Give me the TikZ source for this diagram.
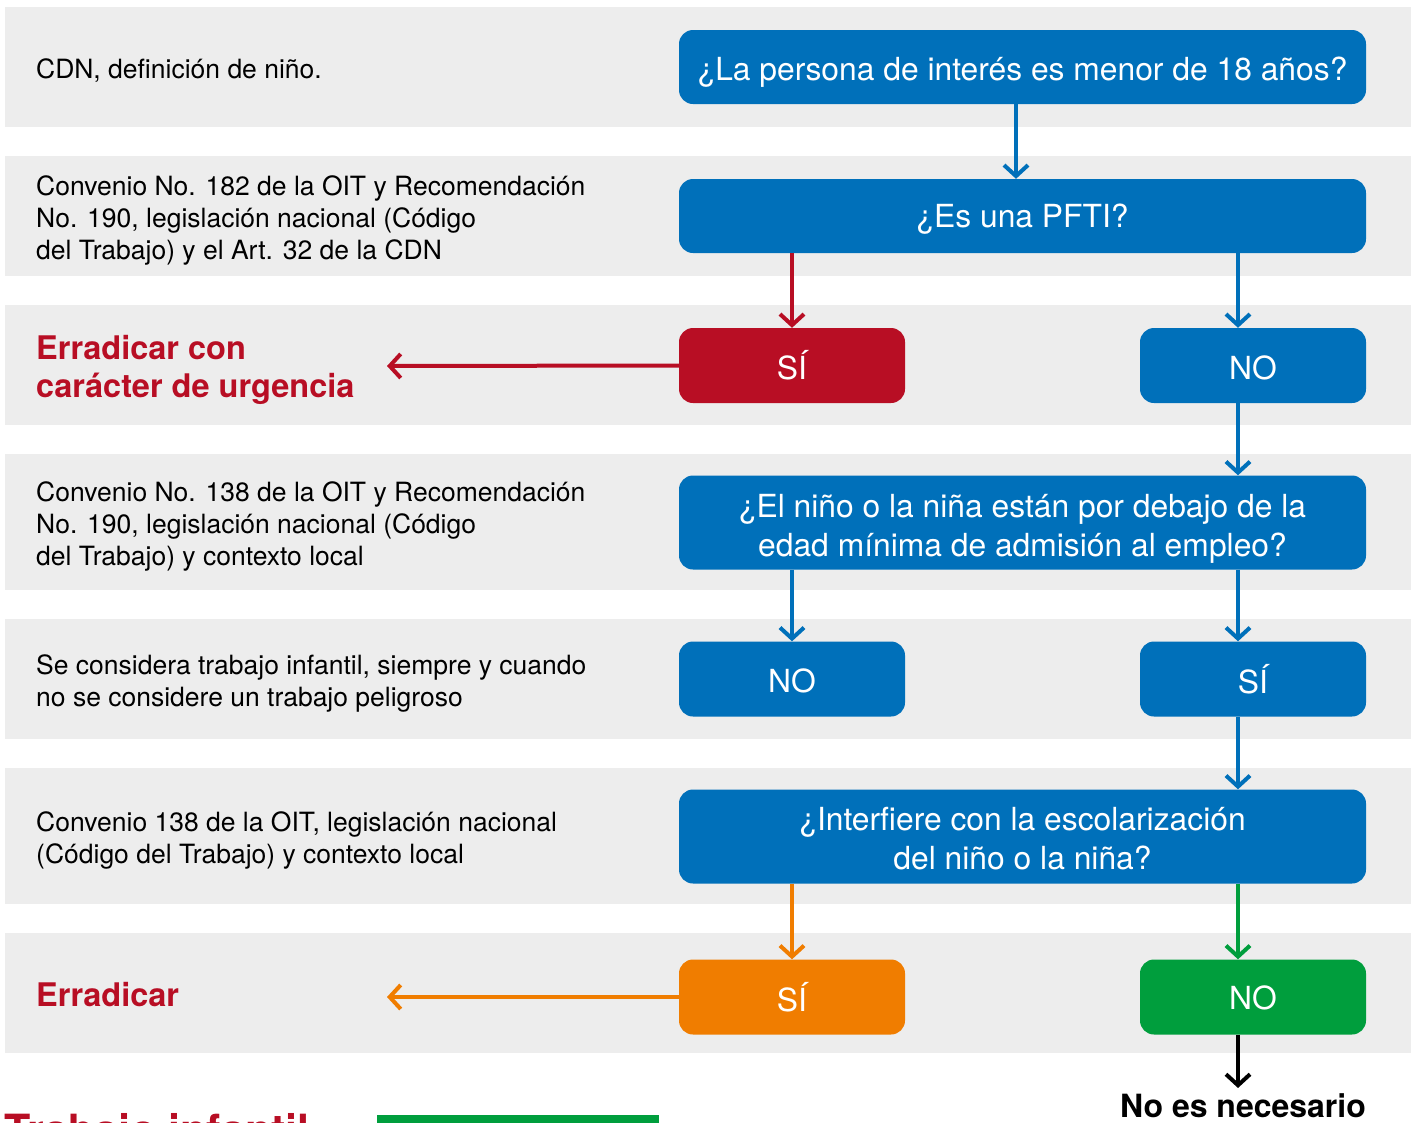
\documentclass[tikz,border=0pt]{standalone}
\usepackage{fontspec}
\setmainfont{TeX Gyre Heros}
\usetikzlibrary{arrows.meta}
\definecolor{oitblue}{RGB}{0,112,186}
\definecolor{oitred}{RGB}{184,14,36}
\definecolor{oitorange}{RGB}{240,125,0}
\definecolor{oitgreen}{RGB}{0,158,61}
\definecolor{bandgray}{RGB}{237,237,237}
\newcommand{\lift}[1]{\rule{0pt}{#1}}

\begin{document}
\begin{tikzpicture}[x=1pt,y=-1pt,
  band/.style={fill=bandgray},
  wide/.style={rounded corners=14pt, minimum width=687pt, text=white, align=center, inner sep=0pt, font=\fontsize{31.8}{39}\selectfont},
  small/.style={wide, minimum width=226pt, minimum height=75pt},
  note/.style={anchor=west, align=left, inner sep=0pt, font=\fontsize{26.5}{32}\selectfont},
  alert/.style={note, text=oitred, font=\fontsize{32.5}{38}\selectfont\bfseries},
  link/.style={line width=4pt, -{Straight Barb[length=11pt,width=24pt]}}]
\useasboundingbox (0,0) rectangle (1416,1122);
\clip (0,0) rectangle (1416,1122);

\fill[band] (5,7) rectangle (1411,127);
\fill[band] (5,156) rectangle (1411,276);
\fill[band] (5,305) rectangle (1411,425);
\fill[band] (5,454) rectangle (1411,590);
\fill[band] (5,619) rectangle (1411,739);
\fill[band] (5,768) rectangle (1411,904);
\fill[band] (5,933) rectangle (1411,1053);

\node[note] (cdn) at (36,71) {CDN, definición de niño.};
\node[note] (c182) at (36,220) {Convenio No. 182 de la OIT y Recomendación\\No. 190, legislación nacional (Código\\del Trabajo) y el Art. 32 de la CDN};
\node[alert] (urgtxt) at (36,370) {Erradicar con\\carácter de urgencia};
\node[note] (c138) at (36,526) {Convenio No. 138 de la OIT y Recomendación\\No. 190, legislación nacional (Código\\del Trabajo) y contexto local};
\node[note] (cond) at (36,683) {Se considera trabajo infantil, siempre y cuando\\no se considere un trabajo peligroso};
\node[note] (local) at (36,840) {Convenio 138 de la OIT, legislación nacional\\(Código del Trabajo) y contexto local};
\node[alert] (eratxt) at (36,995) {Erradicar};

\node[wide, fill=oitblue, minimum height=74pt] (q1) at (1022.5,67) {\lift{33pt}¿La persona de interés es menor de 18 años?};
\node[wide, fill=oitblue, minimum height=74pt] (q2) at (1022.5,216) {\lift{30pt}¿Es una PFTI?};
\node[small, fill=oitred] (si1) at (792,365.5) {SÍ};
\node[small, fill=oitblue] (no1) at (1253,365.5) {\lift{29pt}NO};
\node[wide, fill=oitblue, minimum height=94pt] (q3) at (1022.5,522.5) {\lift{36pt}¿El niño o la niña están por debajo de la\\edad mínima de admisión al empleo?};
\node[small, fill=oitblue] (no2) at (792,679) {\lift{27pt}NO};
\node[small, fill=oitblue] (si2) at (1253,679) {SÍ};
\node[wide, fill=oitblue, minimum height=94pt] (q4) at (1022.5,836.5) {\lift{28pt}¿Interfiere con la escolarización\\del niño o la niña?};
\node[small, fill=oitorange] (si3) at (792,997) {SÍ};
\node[small, fill=oitgreen] (no3) at (1253,997) {\lift{26pt}NO};

\node[anchor=base, inner sep=0pt, font=\fontsize{32}{38}\selectfont\bfseries] (fin) at (1243,1117) {No es necesario};
\node[anchor=base west, inner sep=0pt, text=oitred, font=\fontsize{43}{50}\selectfont\bfseries] (title) at (4,1145) {Trabajo infantil};
\fill[oitgreen] (377,1115) rectangle (659,1140);

\coordinate (mid) at (1016,0);
\coordinate (right) at (1238,0);
\coordinate (urg) at (387,366);
\coordinate (era) at (387,997);

\draw[link, oitblue] (q1.south -| mid) -- (q2.north -| mid);
\draw[link, oitred] (q2.south -| si1) -- (si1.north);
\draw[link, oitblue] (q2.south -| right) -- (no1.north -| right);
\draw[link, oitred] (si1.west) -- (urg);
\draw[link, oitblue] (no1.south -| right) -- (q3.north -| right);
\draw[link, oitblue] (q3.south -| no2) -- (no2.north);
\draw[link, oitblue] (q3.south -| right) -- (si2.north -| right);
\draw[link, oitblue] (si2.south -| right) -- (q4.north -| right);
\draw[link, oitorange] (q4.south -| si3) -- (si3.north);
\draw[link, oitgreen] (q4.south -| right) -- (no3.north -| right);
\draw[link, oitorange] (si3.west) -- (era);
\draw[link, black, shorten >=5pt] (no3.south -| right) -- (fin.north -| right);

\end{tikzpicture}
\end{document}
